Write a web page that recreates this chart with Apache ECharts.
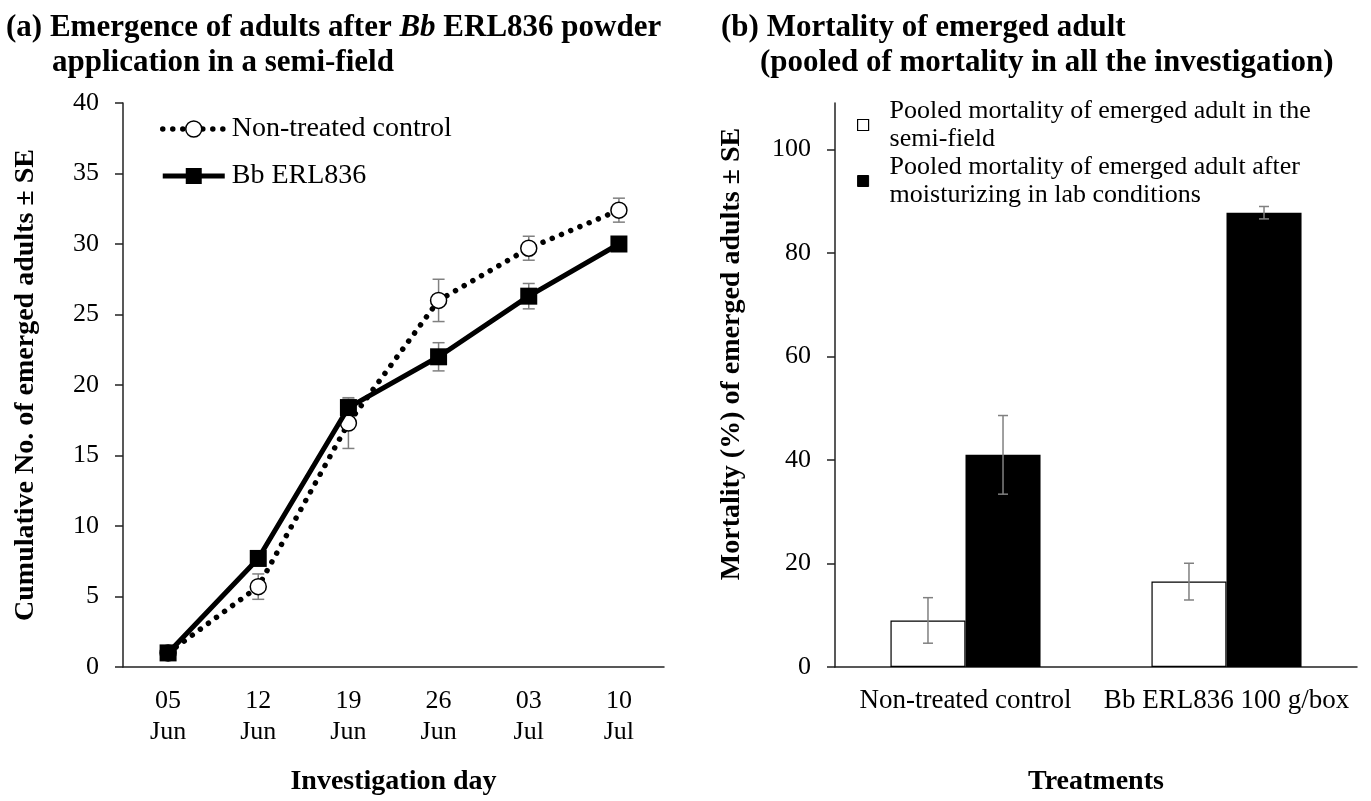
<!DOCTYPE html>
<html lang="en">
  <head>
    <meta charset="UTF-8" />
    <title>Emergence and mortality</title>
    <script src="https://cdn.jsdelivr.net/npm/echarts@6/dist/echarts.min.js"></script>
    <style>
      html, body { margin: 0; padding: 0; background: #fff; }
    </style>
  </head>
  <body>
    <div id="main" style="width: 1371px; height: 801px"></div>
    <script>
      // (a) cumulative emergence
      var days = ["05\nJun", "12\nJun", "19\nJun", "26\nJun", "03\nJul", "10\nJul"];
      var controlMean = [1.0, 5.7, 17.3, 26.0, 29.7, 32.4];
      var controlSE = [0, 0.9, 1.8, 1.5, 0.85, 0.85];
      var bbMean = [1.0, 7.7, 18.4, 22.0, 26.3, 30.0];
      var bbSE = [0, 0.5, 0.6, 1.0, 0.9, 0.5];

      // (b) pooled mortality
      var treatments = ["Non-treated control", "Bb ERL836 100 g/box"];
      var semiFieldMort = [9.0, 16.5];
      var semiFieldSE = [4.4, 3.55];
      var labMort = [41.0, 87.8];
      var labSE = [7.6, 1.2];

      var FONT = "Liberation Serif";
      var SEMI = "Pooled mortality of emerged adult in the semi-field";
      var LAB = "Pooled mortality of emerged adult after moisturizing in lab conditions";
      var legendText = {};
      legendText[SEMI] = "Pooled mortality of emerged adult in the\nsemi-field";
      legendText[LAB] = "Pooled mortality of emerged adult after\nmoisturizing in lab conditions";

      var BAR_GAP = 0.425;
      var DOTS = { color: "#000", width: 5.5, type: [0.01, 10], cap: "round" };
      var SOLID = { color: "#000", width: 5 };

      function withSE(means, ses) {
        return means.map(function (m, i) {
          return [i, m, ses[i]];
        });
      }

      // error bar drawn at the category centre, shifted for grouped bars
      function errorBar(shift, capHalf) {
        return function (params, api) {
          var i = api.value(0);
          var v = api.value(1);
          var e = api.value(2);
          if (!e) return;
          var dx = 0;
          if (shift) {
            var band = api.size([1, 0])[0];
            dx = (shift * band * (1 - BAR_GAP)) / 2 / 2;
          }
          var top = api.coord([i, v + e]);
          var bot = api.coord([i, v - e]);
          var x = top[0] + dx;
          var st = { stroke: "#808080", lineWidth: 1.5 };
          return {
            type: "group",
            children: [
              { type: "line", shape: { x1: x, y1: top[1], x2: x, y2: bot[1] }, style: st },
              { type: "line", shape: { x1: x - capHalf, y1: top[1], x2: x + capHalf, y2: top[1] }, style: st },
              { type: "line", shape: { x1: x - capHalf, y1: bot[1], x2: x + capHalf, y2: bot[1] }, style: st },
            ],
          };
        };
      }

      var axisLine = { lineStyle: { color: "#222", width: 1.5 } };
      var axisTick = { length: 8, lineStyle: { color: "#222", width: 1.5 } };
      var tickFont = { color: "#000", fontFamily: FONT, fontSize: 26 };
      var nameFont = { color: "#000", fontFamily: FONT, fontSize: 28, fontWeight: "bold" };
      var titleFont = { color: "#000", fontFamily: FONT, fontSize: 31, fontWeight: "bold" };

      var chart = echarts.init(document.getElementById("main"));
      var option = {
        animation: false,
        backgroundColor: "#fff",
        title: [
          {
            text: "(a) Emergence of adults after {i|Bb} ERL836 powder",
            left: 1, top: 7,
            textStyle: Object.assign({ rich: { i: Object.assign({}, titleFont, { fontStyle: "italic" }) } }, titleFont),
          },
          { text: "application in a semi-field", left: 47, top: 42, textStyle: titleFont },
          { text: "(b) Mortality of emerged adult", left: 716, top: 7, textStyle: titleFont },
          { text: "(pooled of mortality in all the investigation)", left: 755, top: 42, textStyle: titleFont },
        ],
        legend: [
          {
            orient: "vertical",
            left: 155, top: 109,
            itemWidth: 62, itemHeight: 20, itemGap: 17,
            textStyle: { color: "#000", fontFamily: FONT, fontSize: 28, lineHeight: 30, padding: [0, 0, 0, 2] },
            data: [
              {
                name: "Non-treated control",
                itemStyle: { color: "#fff", borderColor: "#000", borderWidth: 1.5 },
                lineStyle: DOTS,
              },
              { name: "Bb ERL836", itemStyle: { color: "#000" }, lineStyle: SOLID },
            ],
          },
          {
            orient: "vertical",
            left: 852, top: 92,
            itemWidth: 11, itemHeight: 11, itemGap: 0,
            textStyle: { color: "#000", fontFamily: FONT, fontSize: 26, lineHeight: 28, padding: [0, 0, 0, 16] },
            formatter: function (n) { return legendText[n]; },
            data: [
              { name: SEMI, icon: "rect", itemStyle: { color: "#fff", borderColor: "#000", borderWidth: 1.2 } },
              { name: LAB, icon: "rect", itemStyle: { color: "#000", borderColor: "#000", borderWidth: 1 } },
            ],
          },
        ],
        grid: [
          { left: 123, right: 707, top: 103, bottom: 128 },
          { left: 835, right: 14, top: 103, bottom: 130 },
        ],
        xAxis: [
          {
            gridIndex: 0,
            type: "category",
            data: days,
            boundaryGap: true,
            axisLine: axisLine,
            axisTick: Object.assign({ alignWithLabel: true }, axisTick, { length: 7 }),
            axisLabel: Object.assign({ margin: 19, lineHeight: 31, interval: 0 }, tickFont),
            name: "Investigation day",
            nameLocation: "middle",
            nameGap: 101,
            nameTextStyle: nameFont,
          },
          {
            gridIndex: 1,
            type: "category",
            data: treatments,
            axisLine: axisLine,
            axisTick: Object.assign({}, axisTick, { length: 7 }),
            axisLabel: Object.assign({ margin: 20, interval: 0, hideOverlap: false }, tickFont, { fontSize: 27 }),
            name: "Treatments",
            nameLocation: "middle",
            nameGap: 101,
            nameTextStyle: nameFont,
          },
        ],
        yAxis: [
          {
            gridIndex: 0,
            type: "value",
            min: 0, max: 40, interval: 5,
            splitLine: { show: false },
            axisLine: Object.assign({ show: true }, axisLine),
            axisTick: Object.assign({ show: true }, axisTick),
            axisLabel: Object.assign({ margin: 24 }, tickFont),
            name: "Cumulative No. of emerged adults ± SE",
            nameLocation: "middle",
            nameGap: 83,
            nameTextStyle: nameFont,
          },
          {
            gridIndex: 1,
            type: "value",
            min: 0, max: 109,
            splitLine: { show: false },
            axisLine: Object.assign({ show: true }, axisLine),
            axisTick: Object.assign({ show: true, customValues: [0, 20, 40, 60, 80, 100] }, axisTick),
            axisLabel: Object.assign({ margin: 24, customValues: [0, 20, 40, 60, 80, 100] }, tickFont),
            name: "Mortality (%) of emerged adults ± SE",
            nameLocation: "middle",
            nameGap: 89,
            nameTextStyle: Object.assign({ padding: [0, 0, 0, 62] }, nameFont),
          },
        ],
        series: [
          {
            type: "custom",
            xAxisIndex: 0, yAxisIndex: 0, z: 1,
            renderItem: errorBar(0, 6),
            data: withSE(controlMean, controlSE),
          },
          {
            type: "custom",
            xAxisIndex: 0, yAxisIndex: 0, z: 1,
            renderItem: errorBar(0, 6),
            data: withSE(bbMean, bbSE),
          },
          {
            name: "Non-treated control",
            type: "line",
            xAxisIndex: 0, yAxisIndex: 0, z: 3,
            data: controlMean,
            symbol: "circle",
            symbolSize: 16,
            itemStyle: { color: "#fff", borderColor: "#000", borderWidth: 1.5 },
            lineStyle: DOTS,
          },
          {
            name: "Bb ERL836",
            type: "line",
            xAxisIndex: 0, yAxisIndex: 0, z: 4,
            data: bbMean,
            symbol: "rect",
            symbolSize: 17,
            itemStyle: { color: "#000" },
            lineStyle: SOLID,
          },
          {
            name: SEMI,
            type: "bar",
            xAxisIndex: 1, yAxisIndex: 1,
            data: semiFieldMort,
            barGap: "0%",
            barCategoryGap: BAR_GAP * 100 + "%",
            itemStyle: { color: "#fff", borderColor: "#000", borderWidth: 1.2 },
          },
          {
            name: LAB,
            type: "bar",
            xAxisIndex: 1, yAxisIndex: 1,
            data: labMort,
            itemStyle: { color: "#000" },
          },
          {
            type: "custom",
            xAxisIndex: 1, yAxisIndex: 1, z: 5,
            renderItem: errorBar(-1, 5),
            data: withSE(semiFieldMort, semiFieldSE),
          },
          {
            type: "custom",
            xAxisIndex: 1, yAxisIndex: 1, z: 5,
            renderItem: errorBar(1, 5),
            data: withSE(labMort, labSE),
          },
        ],
      };
      chart.setOption(option);
    </script>
  </body>
</html>
